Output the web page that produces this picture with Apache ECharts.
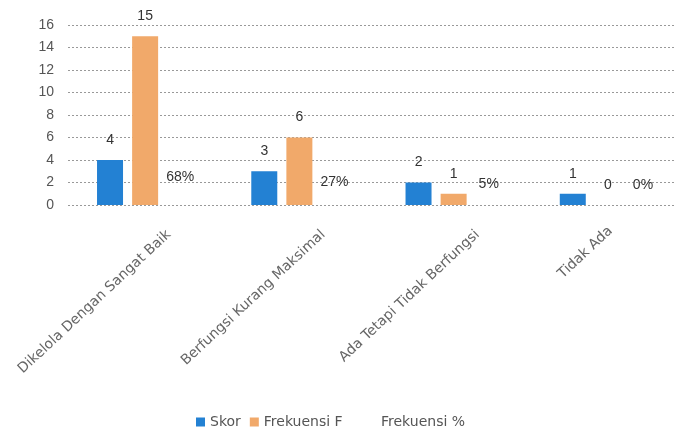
<!DOCTYPE html>
<html>
<head>
<meta charset="utf-8">
<script src="https://cdn.jsdelivr.net/npm/echarts@6/dist/echarts.min.js"></script>
<style>
  html, body { margin: 0; padding: 0; background: #fff; overflow: hidden; }
  #chart { width: 690px; height: 430px; }
</style>
</head>
<body>
<div id="chart"></div>
<script>
// Kondisi fasilitas: skor, frekuensi, dan persentase frekuensi
const categories = [
  'Dikelola Dengan Sangat Baik',
  'Berfungsi Kurang Maksimal',
  'Ada Tetapi Tidak Berfungsi',
  'Tidak Ada'
];
const skor = [4, 3, 2, 1];
const frekuensiF = [15, 6, 1, 0];
const frekuensiPersen = [0.68, 0.27, 0.05, 0];
const yTicks = [0, 2, 4, 6, 8, 10, 12, 14, 16];

const FONT = 'Liberation Sans';
const chart = echarts.init(document.getElementById('chart'), null, { renderer: 'canvas' });

const labelStyle = {
  show: true,
  position: 'top',
  distance: 13,
  fontSize: 14,
  fontFamily: FONT,
  color: '#333'
};

// the short last label sits closer under its bar
const categoryData = categories.map((name, i) =>
  i === categories.length - 1
    ? { value: name, textStyle: { verticalAlign: 'top', lineHeight: 36, padding: [0, 13, 0, 0] } }
    : name
);

const legendText = { fontSize: 14, color: '#555', fontFamily: 'DejaVu Sans' };

chart.setOption({
  animation: false,
  backgroundColor: '#fff',
  textStyle: { fontFamily: FONT },
  grid: { left: 68, right: 5, top: 25, bottom: 225, outerBoundsMode: 'none' },
  legend: [
    {
      left: 191,
      top: 410,
      itemWidth: 9,
      itemHeight: 9,
      itemGap: 9,
      icon: 'rect',
      textStyle: legendText,
      data: ['Skor', 'Frekuensi F']
    },
    {
      left: 362,
      top: 410,
      itemWidth: 9,
      itemHeight: 9,
      icon: 'rect',
      textStyle: legendText,
      data: ['Frekuensi %']
    }
  ],
  xAxis: {
    type: 'category',
    data: categoryData,
    axisLine: { show: false },
    axisTick: { show: false },
    axisLabel: {
      rotate: 43,
      margin: 2,
      verticalAlign: 'top',
      lineHeight: 70,
      fontSize: 14,
      color: '#666',
      fontFamily: 'DejaVu Sans',
      interval: 0
    }
  },
  yAxis: {
    type: 'value',
    min: yTicks[0],
    max: yTicks[yTicks.length - 1],
    interval: 2,
    axisLine: { show: false },
    axisTick: { show: false },
    axisLabel: { margin: 14, fontSize: 14, color: '#555', fontFamily: FONT },
    splitLine: { lineStyle: { type: [2, 2], color: '#999', width: 1 } }
  },
  series: [
    {
      name: 'Skor',
      type: 'bar',
      data: skor,
      barWidth: 26,
      barGap: '35%',
      itemStyle: { color: '#2381d3' },
      label: labelStyle
    },
    {
      name: 'Frekuensi F',
      type: 'bar',
      data: frekuensiF,
      barWidth: 26,
      barGap: '35%',
      itemStyle: { color: '#f1a96a' },
      label: labelStyle
    },
    {
      name: 'Frekuensi %',
      type: 'bar',
      data: frekuensiPersen,
      barWidth: 26,
      barGap: '35%',
      itemStyle: { color: 'rgba(0,0,0,0)' },
      label: Object.assign({}, labelStyle, {
        formatter: p => Math.round(p.value * 100) + '%'
      })
    }
  ]
});
</script>
</body>
</html>
